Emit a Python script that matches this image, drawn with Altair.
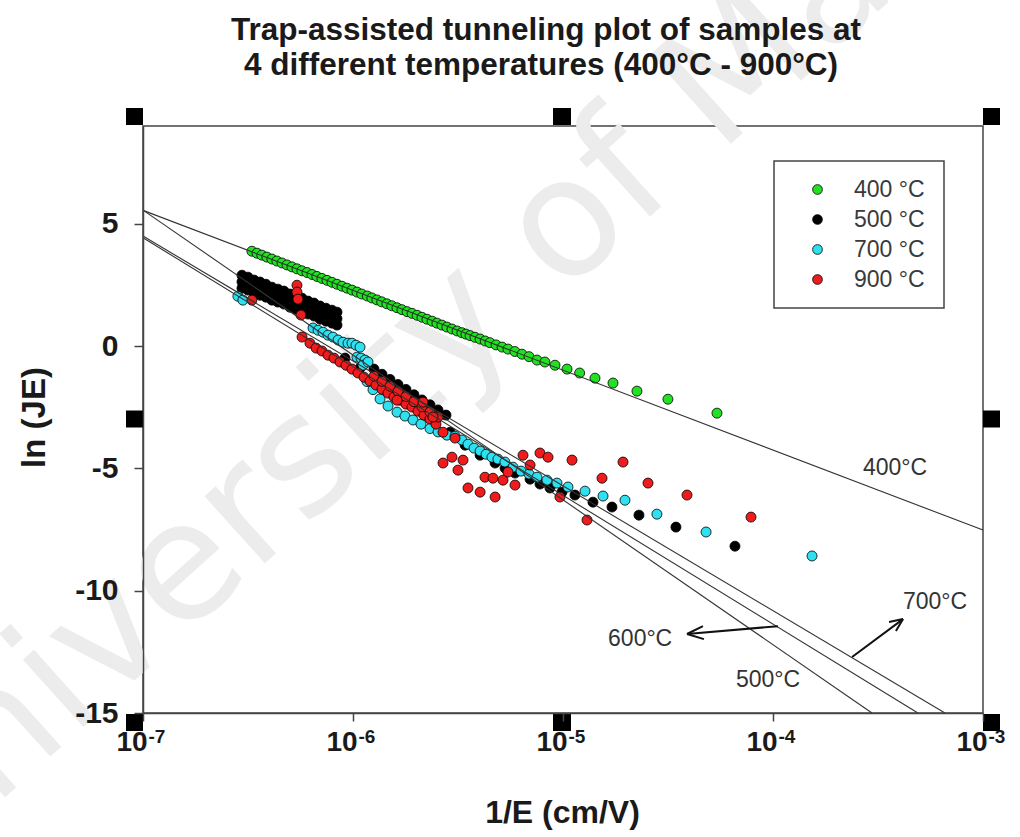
import altair as alt
import pandas as pd

# ---------------- data ----------------
green_x = [3.30e-7, 3.49e-7, 3.68e-7, 3.89e-7, 4.11e-7, 4.34e-7, 4.59e-7, 4.85e-7, 5.12e-7, 5.41e-7,
           5.71e-7, 6.04e-7, 6.38e-7, 6.73e-7, 7.11e-7, 7.52e-7, 7.94e-7, 8.39e-7, 8.86e-7, 9.36e-7,
           9.89e-7, 1.045e-6, 1.10e-6, 1.17e-6, 1.23e-6, 1.30e-6, 1.37e-6, 1.45e-6, 1.53e-6, 1.62e-6,
           1.71e-6, 1.81e-6, 1.91e-6, 2.02e-6, 2.13e-6, 2.25e-6, 2.38e-6, 2.51e-6, 2.65e-6, 2.80e-6,
           2.96e-6, 3.13e-6, 3.30e-6,
           3.45e-6, 3.61e-6, 3.81e-6, 4.03e-6, 4.26e-6, 4.49e-6, 4.80e-6, 5.13e-6, 5.47e-6, 5.90e-6,
           6.38e-6, 6.89e-6,
           7.52e-6, 8.20e-6, 9.16e-6, 1.045e-5, 1.20e-5, 1.42e-5, 1.73e-5, 2.25e-5, 3.16e-5, 5.41e-5]
green_y = [3.88, 3.80, 3.72, 3.64, 3.56, 3.48, 3.40, 3.32, 3.24, 3.16,
           3.08, 3.01, 2.93, 2.85, 2.77, 2.69, 2.61, 2.53, 2.45, 2.37,
           2.29, 2.21, 2.13, 2.05, 1.97, 1.89, 1.81, 1.73, 1.65, 1.57,
           1.49, 1.41, 1.34, 1.26, 1.18, 1.10, 1.02, 0.94, 0.86, 0.78,
           0.70, 0.62, 0.55,
           0.49, 0.43, 0.36, 0.29, 0.21, 0.14, 0.05, -0.04, -0.12, -0.22,
           -0.33, -0.43,
           -0.57, -0.65, -0.78, -0.94, -1.10, -1.31, -1.51, -1.84, -2.17, -2.74]

black_blob_x = [2.96e-7, 3.16e-7, 3.38e-7, 3.61e-7, 3.85e-7, 4.11e-7, 4.39e-7, 4.69e-7, 5.01e-7,
                5.35e-7, 5.72e-7, 6.11e-7, 6.52e-7, 6.97e-7, 7.44e-7, 7.94e-7, 8.39e-7]
black_blob_upper_y = [2.90, 2.82, 2.70, 2.62, 2.53, 2.41, 2.33, 2.25, 2.13, 2.04, 1.96, 1.84, 1.76,
                      1.64, 1.55, 1.47, 1.39]
black_blob_mid_y = [2.63, 2.55, 2.43, 2.35, 2.27, 2.15, 2.06, 1.98, 1.86, 1.78, 1.70, 1.57, 1.49,
                    1.37, 1.29, 1.21, 1.12]
black_blob_lower_y = [2.37, 2.29, 2.17, 2.08, 2.00, 1.88, 1.80, 1.72, 1.59, 1.51, 1.43, 1.31, 1.23,
                      1.10, 1.02, 0.94, 0.86]
black_edge_x = [1.259e-6, 1.374e-6, 1.50e-6, 1.638e-6, 1.788e-6, 1.952e-6, 2.131e-6, 2.326e-6,
                2.54e-6, 2.773e-6]
black_edge_y = [-0.94, -1.15, -1.36, -1.57, -1.77, -1.99, -2.20, -2.40, -2.61, -2.82]
black_band_x = [9.16e-7, 1.08e-6, 1.273e-6, 1.50e-6, 1.768e-6, 2.085e-6, 2.46e-6, 2.90e-6, 3.42e-6,
                4.03e-6, 4.75e-6, 5.30e-6]
black_band_y = [-0.49, -0.90, -1.31, -1.80, -2.21, -2.62, -3.03, -3.52, -4.05, -4.46, -4.78, -4.99]
black_tail_x = [5.91e-6, 6.97e-6, 7.77e-6, 8.67e-6, 9.89e-6, 1.14e-5, 1.389e-5, 1.711e-5, 2.30e-5,
                3.45e-5, 6.59e-5]
black_tail_y = [-5.19, -5.44, -5.64, -5.80, -5.97, -6.09, -6.38, -6.58, -6.91, -7.40, -8.18]
black_x = black_blob_x + black_blob_x + black_blob_x + black_edge_x + black_band_x + black_tail_x
black_y = (black_blob_upper_y + black_blob_mid_y + black_blob_lower_y + black_edge_y
           + black_band_y + black_tail_y)

cyan_x = [2.83e-7, 2.99e-7, 6.45e-7, 6.82e-7, 7.20e-7, 7.60e-7, 8.03e-7, 8.49e-7, 8.96e-7, 9.47e-7,
          9.89e-7, 1.033e-6, 1.08e-6, 1.045e-6, 1.092e-6, 1.14e-6, 1.116e-6, 1.179e-6, 1.166e-6,
          1.245e-6, 1.345e-6, 1.468e-6, 1.62e-6, 1.768e-6, 1.931e-6, 2.108e-6, 2.326e-6, 2.54e-6,
          2.80e-6, 3.06e-6, 3.30e-6, 3.53e-6, 3.77e-6, 4.03e-6, 4.30e-6, 4.59e-6, 4.90e-6, 5.29e-6,
          5.78e-6, 6.31e-6, 6.89e-6, 7.52e-6, 8.39e-6, 9.36e-6, 1.056e-5, 1.273e-5, 1.551e-5,
          1.973e-5, 2.80e-5, 4.80e-5, 1.534e-4]
cyan_y = [2.04, 1.88, 0.74, 0.65, 0.57, 0.45, 0.37, 0.25, 0.16, 0.12,
          0.12, 0.04, -0.04, -0.45, -0.49, -0.57, -0.78, -0.65, -1.45,
          -1.78, -2.16, -2.45, -2.70, -2.86, -3.02, -3.19, -3.37, -3.51,
          -3.64, -3.68, -3.84, -4.01, -4.17, -4.29, -4.42, -4.54, -4.62, -4.74,
          -4.95, -5.11, -5.23, -5.36, -5.48, -5.60, -5.76, -5.93, -6.13,
          -6.30, -6.87, -7.60, -8.58]

red_x = [3.30e-7, 5.41e-7, 5.41e-7, 5.47e-7, 5.65e-7, 5.72e-7,
         6.24e-7, 6.67e-7, 7.12e-7, 7.60e-7, 8.12e-7, 8.67e-7, 9.26e-7, 9.89e-7, 1.056e-6, 1.128e-6,
         1.205e-6, 1.287e-6, 1.374e-6, 1.468e-6, 1.567e-6, 1.674e-6, 1.788e-6, 1.909e-6, 2.04e-6,
         2.178e-6, 2.326e-6, 2.484e-6,
         1.259e-6, 1.374e-6, 1.50e-6, 1.638e-6, 1.788e-6, 1.952e-6, 2.131e-6, 2.326e-6, 2.54e-6,
         1.62e-6, 2.154e-6, 2.404e-6, 2.683e-6, 3.06e-6,
         2.683e-6, 2.96e-6, 3.341e-6, 3.162e-6, 3.529e-6, 4.03e-6, 4.25e-6, 4.642e-6, 4.75e-6,
         5.18e-6, 5.47e-6, 5.91e-6, 6.45e-6, 6.97e-6, 7.77e-6, 8.485e-6, 9.67e-6, 1.104e-5,
         1.301e-5, 1.534e-5, 1.931e-5, 2.54e-5, 3.895e-5, 7.857e-5]
red_y = [1.88, 2.49, 2.21, 1.92, 1.27, 0.37,
         0.12, -0.08, -0.20, -0.37, -0.49, -0.65, -0.78, -0.94, -1.10, -1.27,
         -1.43, -1.59, -1.76, -1.92, -2.08, -2.21, -2.37, -2.49, -2.66,
         -2.82, -2.98, -3.19,
         -1.23, -1.44, -1.64, -1.85, -2.06, -2.27, -2.48, -2.69, -2.90,
         -2.21, -2.29, -2.90, -3.52, -3.76,
         -4.78, -4.54, -4.66, -5.07, -5.80, -5.97, -5.36, -5.40, -6.17,
         -5.48, -5.15, -5.68, -4.46, -4.86, -4.37, -4.54, -6.17, -4.66,
         -7.11, -5.40, -4.74, -5.60, -6.09, -6.99]

series_names = ["400 °C", "500 °C", "700 °C", "900 °C"]
series_colors = ["#22e022", "#000000", "#2ee0f0", "#ee1c1c"]

# fitted lines (start / end points)
fit_names = ["400°C", "500°C", "600°C", "700°C"]
fit_x1 = [1e-7, 1e-7, 1e-7, 1e-7]
fit_y1 = [5.55, 5.56, 4.43, 4.50]
fit_x2 = [1e-3, 2.96e-4, 4.90e-4, 6.59e-4]
fit_y2 = [-7.52, -15.0, -15.0, -15.0]

# annotation labels
note_text = ["400°C", "700°C", "600°C", "500°C"]
note_x = [3.81e-4, 5.91e-4, 2.33e-5, 9.47e-5]
note_y = [-4.99, -10.47, -11.98, -13.65]

# arrows: shaft + two head strokes each
arrow_x1 = [2.38e-4, 4.16e-4, 4.16e-4, 1.056e-4, 3.896e-5, 3.896e-5]
arrow_y1 = [-12.71, -11.16, -11.16, -11.45, -11.77, -11.77]
arrow_x2 = [4.16e-4, 3.57e-4, 3.85e-4, 3.896e-5, 4.69e-5, 4.64e-5]
arrow_y2 = [-11.16, -11.28, -11.65, -11.77, -11.98, -11.45]

tick_values = [1e-7, 1e-6, 1e-5, 1e-4, 1e-3]
tick_base = ["10", "10", "10", "10", "10"]
tick_exponents = ["-7", "-6", "-5", "-4", "-3"]
y_ticks = [-15, -10, -5, 0, 5]

title_lines = ["Trap-assisted tunneling plot of samples at",
               "4 different temperatures (400°C - 900°C)"]

# ---------------- tables ----------------
rows = []
for name, xs, ys in [("400 °C", green_x, green_y), ("500 °C", black_x, black_y),
                     ("700 °C", cyan_x, cyan_y), ("900 °C", red_x, red_y)]:
    assert len(xs) == len(ys), name
    for a, b in zip(xs, ys):
        rows.append({"inv_E": a, "lnJE": b, "sample": name})
pts = pd.DataFrame(rows)

fits = pd.DataFrame({"name": fit_names, "x1": fit_x1, "y1": fit_y1, "x2": fit_x2, "y2": fit_y2})
notes = pd.DataFrame({"t": note_text, "x": note_x, "y": note_y})
arrows = pd.DataFrame({"x1": arrow_x1, "y1": arrow_y1, "x2": arrow_x2, "y2": arrow_y2})
ticks_df = pd.DataFrame({"x": tick_values, "b": tick_base, "t": tick_exponents})

W, H = 840, 587
FONT = "Liberation Sans"
AX = "#444444"
TXT = "#1a1a1a"

xscale = alt.Scale(type="log", domain=[1e-7, 1e-3], nice=False)
yscale = alt.Scale(domain=[-15, 9], nice=False, zero=False)

xaxis = alt.Axis(values=tick_values, labels=False, tickSize=8, tickColor=AX, tickWidth=1.5,
                 domainColor=AX, domainWidth=1.5, grid=False, title="1/E (cm/V)",
                 titleFont=FONT, titleFontSize=32, titleFontWeight="bold", titleColor=TXT,
                 titleX=W / 2 - 1, titleY=99, titleAlign="center", titleBaseline="middle",
                 zindex=1)
yaxis = alt.Axis(values=y_ticks, labelExpr="datum.value + ''", tickSize=9, tickColor=AX,
                 tickWidth=1.5, domainColor=AX, domainWidth=1.5, labelFont=FONT,
                 labelFontSize=30, labelFontWeight="bold", labelColor=TXT,
                 labelPadding=16, labelFlush=False, grid=False, title="ln (JE)", titleFont=FONT,
                 titleFontSize=33, titleFontWeight="bold", titleColor=TXT,
                 titleX=-109, titleY=291, titleAlign="center", titleBaseline="middle",
                 titleAngle=270, zindex=1)

legend = alt.Legend(orient="none", legendX=663, legendY=52, title=None, labelFont=FONT,
                    labelFontSize=23, labelColor="#3a3a3a", symbolType="circle", symbolSize=95,
                    symbolStrokeColor="black", symbolStrokeWidth=0.8, symbolOpacity=1,
                    rowPadding=6, labelOffset=25, padding=0)

one = pd.DataFrame({"k": [0]})

watermark = alt.Chart(pd.DataFrame({"t": ["University of Malaya"]})).mark_text(
    font="DejaVu Sans", fontSize=165, color="#ececec", angle=318, align="center",
    baseline="middle"
).encode(x=alt.value(354), y=alt.value(161), text="t:N")

title1 = alt.Chart(pd.DataFrame({"t": [title_lines[0]]})).mark_text(
    font=FONT, fontSize=31.5, fontWeight="bold", color=TXT, align="center",
    baseline="alphabetic"
).encode(x=alt.value(403), y=alt.value(-86), text="t:N")
title2 = alt.Chart(pd.DataFrame({"t": [title_lines[1]]})).mark_text(
    font=FONT, fontSize=31.5, fontWeight="bold", color=TXT, align="center",
    baseline="alphabetic"
).encode(x=alt.value(398), y=alt.value(-51), text="t:N")

legend_box = alt.Chart(one).mark_rect(fill="white", stroke="#444444", strokeWidth=1.5).encode(
    x=alt.value(631), x2=alt.value(801), y=alt.value(35), y2=alt.value(182))

points = alt.Chart(pts).mark_circle(size=100, opacity=1, stroke="black", strokeWidth=0.8).encode(
    x=alt.X("inv_E:Q", scale=xscale, axis=xaxis),
    y=alt.Y("lnJE:Q", scale=yscale, axis=yaxis),
    color=alt.Color("sample:N", scale=alt.Scale(domain=series_names, range=series_colors),
                    legend=legend),
)

fit_lines = alt.Chart(fits).mark_rule(color="#333333", strokeWidth=1.1).encode(
    x="x1:Q", y="y1:Q", x2="x2:Q", y2="y2:Q")

arrow_lines = alt.Chart(arrows).mark_rule(color="#111111", strokeWidth=2).encode(
    x="x1:Q", y="y1:Q", x2="x2:Q", y2="y2:Q")

note_marks = alt.Chart(notes).mark_text(font=FONT, fontSize=23, color="#333333",
                                       align="center", baseline="middle").encode(
    x="x:Q", y="y:Q", text="t:N")

base_marks = alt.Chart(ticks_df).mark_text(font=FONT, fontSize=28, fontWeight="bold",
                                          color=TXT, align="center", baseline="middle",
                                          dx=-11).encode(
    x="x:Q", y=alt.value(617), text="b:N")
expo_marks = alt.Chart(ticks_df).mark_text(font=FONT, fontSize=19, fontWeight="bold",
                                          color=TXT, align="center", baseline="middle",
                                          dx=14).encode(
    x="x:Q", y=alt.value(611), text="t:N")

# black selection handles around the frame
handles = []
for fx in (0.0, 0.5, 1.0):
    for fy in (0.0, 0.5, 1.0):
        if fx == 0.5 and fy == 0.5:
            continue
        if fx == 0.0:
            xa, xb = -17, 0
        elif fx == 1.0:
            xa, xb = W, W + 17
        else:
            xa, xb = W / 2 - 10, W / 2 + 8
        if fy == 0.0:
            ya, yb = -18, -1
        elif fy == 1.0:
            ya, yb = H + 1, H + 18
        else:
            ya, yb = H / 2 - 9, H / 2 + 8
        handles.append(alt.Chart(one).mark_rect(color="black").encode(
            x=alt.value(xa), x2=alt.value(xb), y=alt.value(ya), y2=alt.value(yb)))

chart = alt.layer(watermark, title1, title2, legend_box, points, fit_lines, arrow_lines,
                  note_marks, base_marks, expo_marks, *handles).properties(
    width=W, height=H,
    autosize=alt.AutoSizeParams(type="none"),
    padding={"left": 143, "top": 126, "right": 37, "bottom": 124},
    background="white",
).configure_view(stroke=AX, strokeWidth=1.5)

chart.save("out.html", embed_options={"renderer": "svg", "actions": False})
